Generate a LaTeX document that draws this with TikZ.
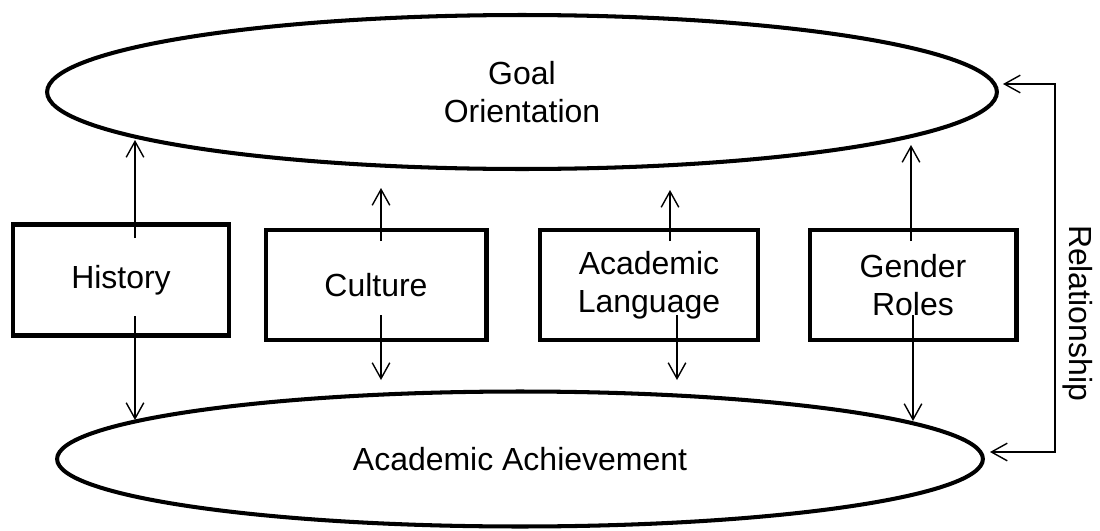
\documentclass[tikz,border=0pt]{standalone}
\usepackage{fontspec}
\setmainfont{Liberation Sans}
\usetikzlibrary{shapes.geometric,arrows.meta}

\begin{document}
\begin{tikzpicture}[x=0.02cm,y=-0.02cm,
  every node/.style={font=\fontsize{18.2}{21.5}\selectfont,align=center,inner sep=0pt},
  factor/.style={draw,line width=2.3pt,minimum height=2.2cm},
  outcome/.style={draw,ellipse,line width=2.3pt},
  link/.style={line width=0.8pt,-{Straight Barb[length=9pt,width=10pt]}}]
\useasboundingbox (0,0) rectangle (1100,531);

% the two outcomes
\node[outcome,minimum width=19cm,minimum height=3.08cm] (goal) at (522,92) {Goal\\Orientation};
\node[outcome,minimum width=18.52cm,minimum height=2.7cm] (ach) at (520,459) {Academic Achievement};

% the four factors
\node[factor,minimum width=4.32cm,minimum height=2.22cm] (hist) at (121,280) {History};
\node[factor,minimum width=4.42cm] (cult) at (376,285) {Culture};
\node[factor,minimum width=4.36cm] (lang) at (649,285) {Academic\\Language};
\node[factor,minimum width=4.14cm] (gend) at (913,285) {Gender\\Roles};

% arrows up to goal orientation
\coordinate (hu) at (135,238); \coordinate (hut) at (135,140);
\coordinate (cu) at (381,241); \coordinate (cut) at (381,188);
\coordinate (lu) at (670,241); \coordinate (lut) at (670,190);
\coordinate (gu) at (911,241); \coordinate (gut) at (911,145);
\draw[link] (hu) -- (hut);
\draw[link] (cu) -- (cut);
\draw[link] (lu) -- (lut);
\draw[link] (gu) -- (gut);

% arrows down to achievement
\coordinate (hd) at (135,316); \coordinate (hdt) at (135,420);
\coordinate (cd) at (381,315); \coordinate (cdt) at (381,380);
\coordinate (ld) at (677,315); \coordinate (ldt) at (677,380);
\coordinate (gd) at (913,315); \coordinate (gdt) at (913,421);
\draw[link] (hd) -- (hdt);
\draw[link] (cd) -- (cdt);
\draw[link] (ld) -- (ldt);
\draw[link] (gd) -- (gdt);

% relationship bracket
\coordinate (rt) at (1003,84); \coordinate (rb) at (990,452);
\draw[line width=0.8pt,{Straight Barb[length=9pt,width=10pt]}-{Straight Barb[length=9pt,width=10pt]}]
  (rt) -- (1055,84) -- (1055,452) -- (rb);
\node[rotate=-90] (rel) at (1078,313) {Relationship};
\end{tikzpicture}
\end{document}
